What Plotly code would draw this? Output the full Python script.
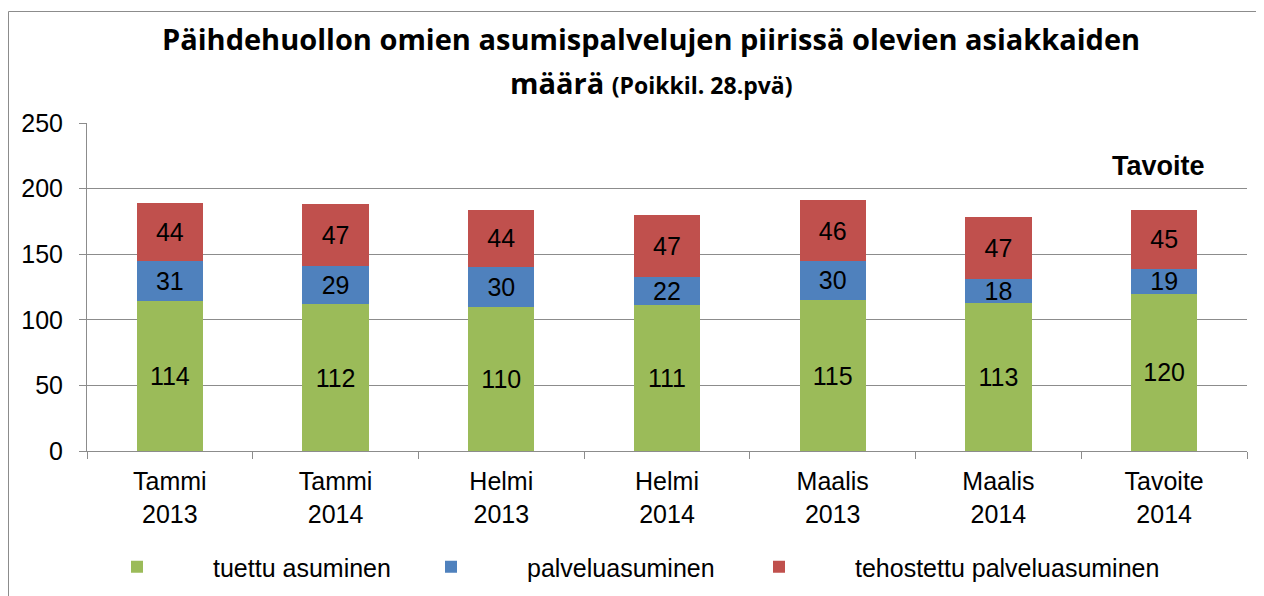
import plotly.graph_objects as go

categories = ["Tammi<br>2013", "Tammi<br>2014", "Helmi<br>2013", "Helmi<br>2014",
              "Maalis<br>2013", "Maalis<br>2014", "Tavoite<br>2014"]
tuettu = [114, 112, 110, 111, 115, 113, 120]
palvelu = [31, 29, 30, 22, 30, 18, 19]
tehostettu = [44, 47, 44, 47, 46, 47, 45]
series_names = ["tuettu asuminen", "palveluasuminen", "tehostettu palveluasuminen"]
series_colors = ["#9BBB59", "#4F81BD", "#C0504D"]
title_line1 = "Päihdehuollon omien asumispalvelujen piirissä olevien asiakkaiden"
title_line2 = "määrä <span style='font-size:23px'>(Poikkil. 28.pvä)</span>"
target_label = "Tavoite"

OFF = 8  # page body margin
W, H = 1256, 588
L, T = 79, 115
pw, ph = 1160, 328
R, B = W - L - pw, H - T - ph

def px_x(sx):
    return (sx - OFF - L) / pw

def px_y(sy):
    return (H - B - (sy - OFF)) / ph

legend_ids = ["legend", "legend2", "legend3"]
legend_x_px = [61, 375, 703]

fig = go.Figure()
for vals, name, col, lid in zip([tuettu, palvelu, tehostettu], series_names, series_colors, legend_ids):
    fig.add_trace(go.Bar(
        x=categories, y=vals, name=name, legend=lid,
        marker=dict(color=col, line=dict(width=0)),
        text=vals, texttemplate="%{text}", textposition="inside",
        insidetextanchor="middle", textangle=0,
        textfont=dict(family="Liberation Sans, Arial", size=25, color="black"),
        constraintext="none",
    ))

legend_common = dict(
    orientation="h", yanchor="middle", xanchor="left",
    font=dict(family="Liberation Sans, Arial", size=25, color="black"),
    itemwidth=142, bgcolor="rgba(0,0,0,0)",
    itemclick=False, itemdoubleclick=False,
)

fig.update_layout(
    barmode="stack",
    bargap=0.6,
    width=W, height=H,
    margin=dict(l=L, r=R, t=T, b=B, autoexpand=False),
    paper_bgcolor="white", plot_bgcolor="white",
    font=dict(family="Liberation Sans, Arial", size=25, color="black"),
    uniformtext=dict(minsize=25, mode="show"),
    showlegend=True,
)
layout_legends = {}
for lid, lx in zip(legend_ids, legend_x_px):
    layout_legends[lid] = dict(legend_common, x=px_x(lx), y=px_y(567))
fig.update_layout(**layout_legends)

fig.update_yaxes(
    range=[0, 250], dtick=50, showgrid=True, gridcolor="#8C8C8C", gridwidth=1,
    showline=True, linecolor="#8C8C8C", linewidth=1,
    ticks="outside", ticklen=7, tickcolor="#8C8C8C",
    zeroline=False, tickfont=dict(size=25), ticklabelstandoff=11,
)
fig.update_xaxes(
    showline=True, linecolor="#8C8C8C", linewidth=1,
    ticks="outside", ticklen=7, tickcolor="#8C8C8C", tickson="boundaries",
    tickfont=dict(size=25), ticklabelstandoff=8,
)

fig.add_annotation(text=title_line1, xref="paper", yref="paper",
                   x=px_x(651), y=px_y(38), xanchor="center", yanchor="middle",
                   showarrow=False,
                   font=dict(family="Open Sans", size=29, color="black", weight="bold"))
fig.add_annotation(text=title_line2, xref="paper", yref="paper",
                   x=px_x(651), y=px_y(82), xanchor="center", yanchor="middle",
                   showarrow=False,
                   font=dict(family="Open Sans", size=29, color="black", weight="bold"))
fig.add_annotation(text="<b>" + target_label + "</b>", xref="paper", yref="paper",
                   x=px_x(1158), y=px_y(166), xanchor="center", yanchor="middle",
                   showarrow=False,
                   font=dict(family="Liberation Sans, Arial", size=27, color="black"))

fig.add_shape(type="rect", xref="paper", yref="paper",
              x0=px_x(8.5), x1=px_x(1300), y0=px_y(640), y1=px_y(11.5),
              line=dict(color="#8C8C8C", width=1), fillcolor="rgba(0,0,0,0)", layer="below")

fig.write_html("out.html")
